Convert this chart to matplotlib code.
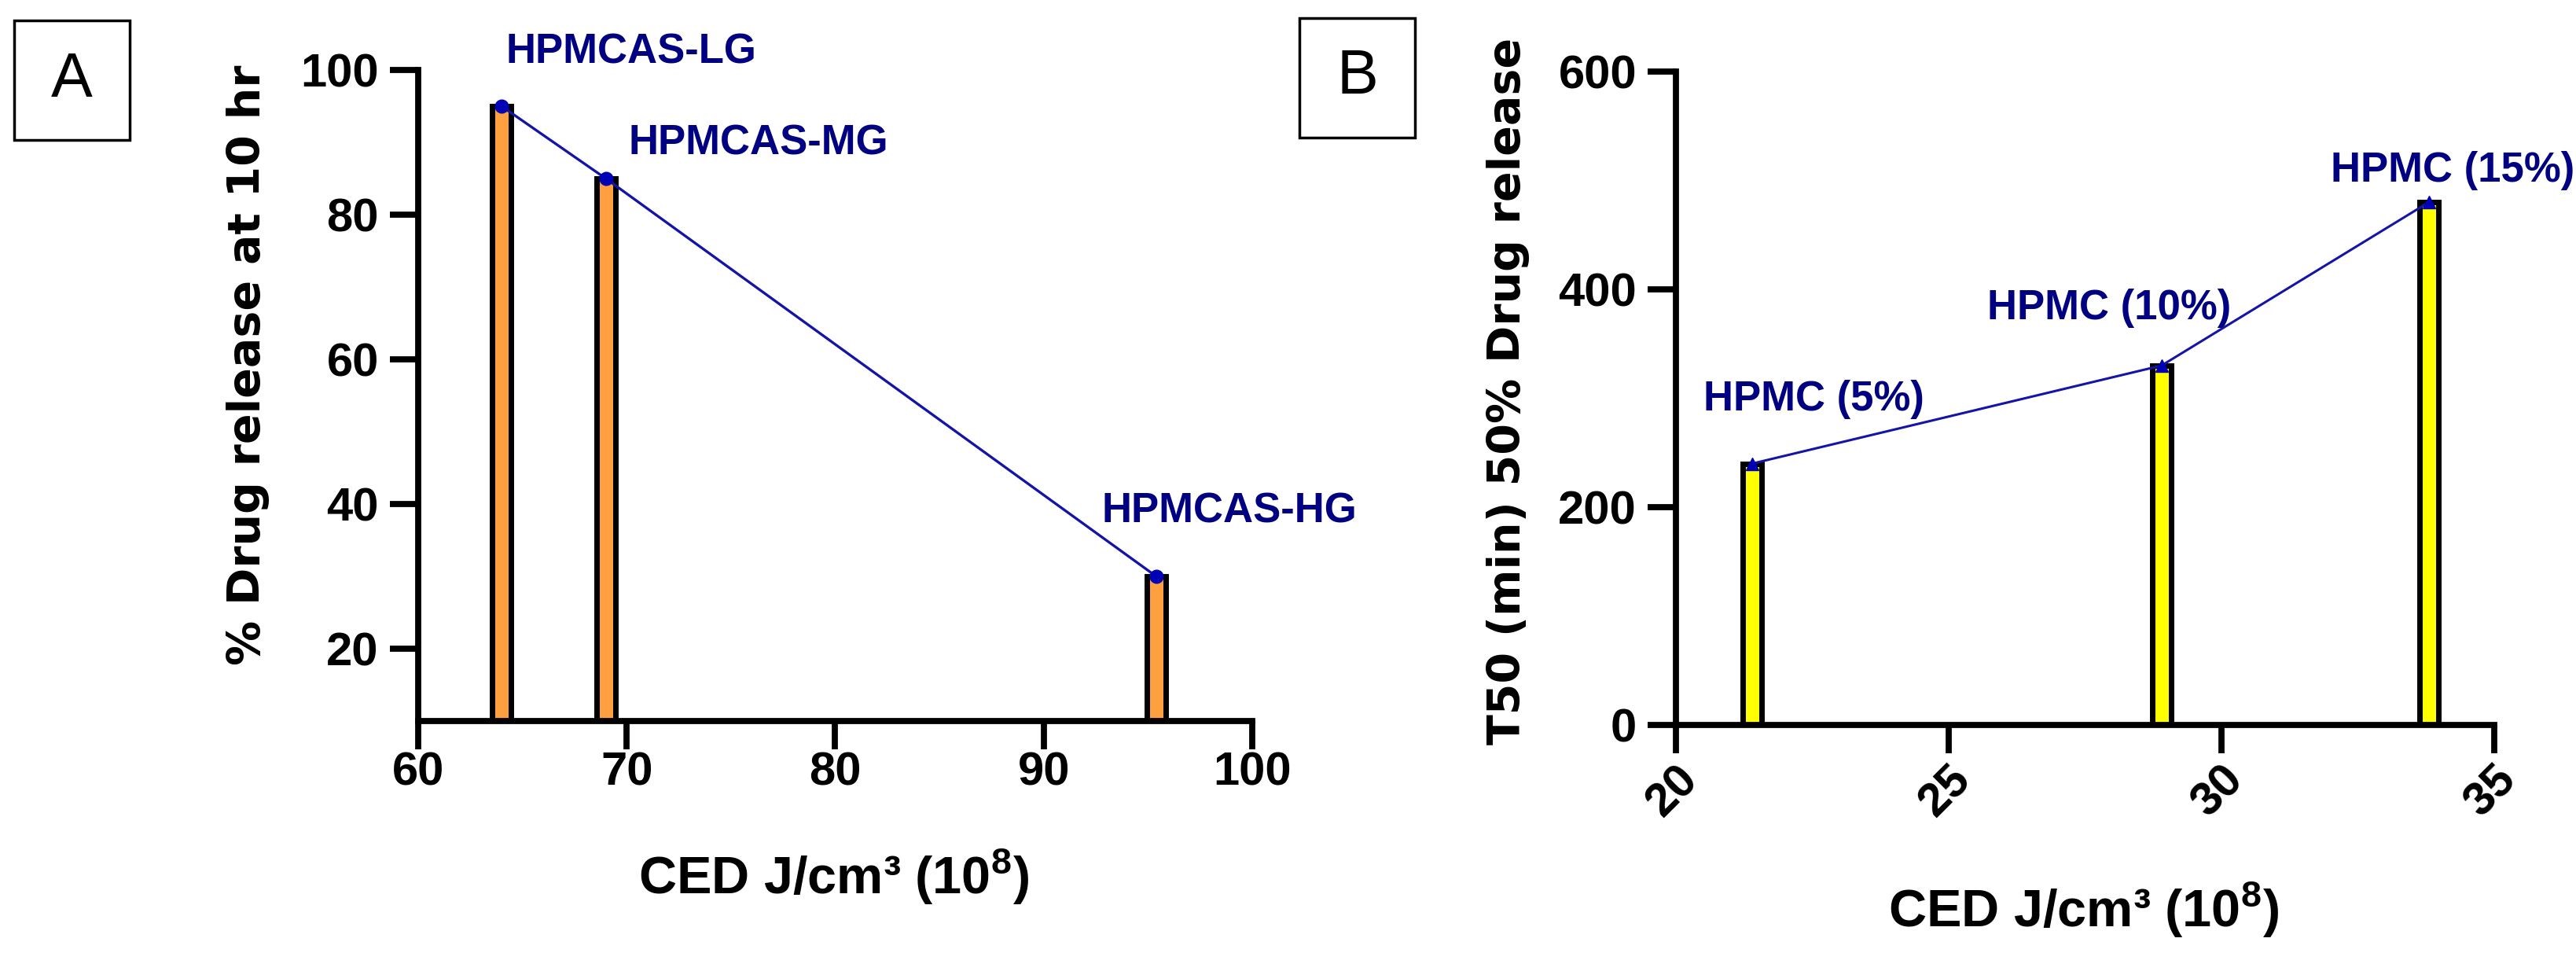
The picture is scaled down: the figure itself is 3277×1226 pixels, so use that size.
import matplotlib
matplotlib.use("Agg")
import matplotlib.pyplot as plt
from matplotlib.patches import Rectangle

plt.rcParams['font.family'] = ['Liberation Sans', 'DejaVu Sans']
plt.rcParams['mathtext.fontset'] = 'custom'
plt.rcParams['mathtext.rm'] = 'Liberation Sans:bold'
plt.rcParams['mathtext.default'] = 'rm'

# ---- data ----------------------------------------------------------------
# Panel A: HPMCAS grades
ced_a = [64.0, 69.0, 95.4]
release_a = [95, 85, 30]
names_a = ["HPMCAS-LG", "HPMCAS-MG", "HPMCAS-HG"]
label_pos_a = [(64.2, 102.4), (70.1, 89.8), (92.8, 39.0)]

# Panel B: HPMC concentrations
ced_b = [21.4, 28.9, 33.8]
t50_b = [240, 330, 480]
names_b = ["HPMC (5%)", "HPMC (10%)", "HPMC (15%)"]
label_pos_b = [(20.5, 299), (25.7, 383), (32.0, 509)]

xticks_a = [60, 70, 80, 90, 100]
yticks_a = [20, 40, 60, 80, 100]
xticks_b = [20, 25, 30, 35]
yticks_b = [0, 200, 400, 600]

# ---- style ---------------------------------------------------------------
ORANGE = '#FFA040'
YELLOW = '#FFFF00'
LINE = '#1414A8'
MARK = '#0000B4'
NAVY = '#000080'
SPINE_LW = 5.6
TICK_FS = 43
LAB_FS = 38

fig = plt.figure(figsize=(32.77, 12.26), dpi=100)
axA = fig.add_axes([0.1623, 0.2520, 0.3238, 0.6754])
axB = fig.add_axes([0.6506, 0.2480, 0.3177, 0.6778])


def style_axes(ax):
    for s in ('top', 'right'):
        ax.spines[s].set_visible(False)
    for s in ('left', 'bottom'):
        ax.spines[s].set_linewidth(SPINE_LW)
    ax.tick_params(width=SPINE_LW, length=26, labelsize=TICK_FS)
    for lab in ax.get_xticklabels() + ax.get_yticklabels():
        lab.set_fontweight('bold')


# ---- panel A -------------------------------------------------------------
axA.bar(ced_a, release_a, width=0.9, color=ORANGE, edgecolor='black',
        linewidth=5, zorder=2)
axA.plot(ced_a, release_a, color=LINE, lw=2.4, marker='o', ms=12,
         mfc=MARK, mec=MARK, zorder=4, clip_on=False)
axA.set_xlim(60, 100)
axA.set_ylim(10, 100)
axA.set_xticks(xticks_a)
axA.set_yticks(yticks_a)
style_axes(axA)
axA.tick_params(axis='x', pad=2)
axA.tick_params(axis='y', pad=10)
for name, (x, y) in zip(names_a, label_pos_a):
    axA.text(x, y, name, color=NAVY, fontsize=LAB_FS, fontweight='bold',
             ha='left', va='center', clip_on=False)

# ---- panel B -------------------------------------------------------------
axB.bar(ced_b, t50_b, width=0.35, color=YELLOW, edgecolor='black',
        linewidth=5, zorder=2)
axB.plot(ced_b, t50_b, color=LINE, lw=2.2, marker='^', ms=11,
         mfc=MARK, mec=MARK, zorder=4, clip_on=False)
axB.set_xlim(20, 35)
axB.set_ylim(0, 600)
axB.set_xticks(xticks_b)
axB.set_yticks(yticks_b)
style_axes(axB)
axB.tick_params(axis='y', pad=10)
axB.tick_params(axis='x', pad=4)
for lab in axB.get_xticklabels():
    lab.set_rotation(45)
    lab.set_ha('right')
    lab.set_rotation_mode('anchor')
for name, (x, y) in zip(names_b, label_pos_b):
    axB.text(x, y, name, color=NAVY, fontsize=LAB_FS, fontweight='bold',
             ha='left', va='center', clip_on=False)

# ---- axis titles ---------------------------------------------------------
fig.text(0.0964, 0.6215, '% Drug release at 10 hr', rotation=90,
         family='DejaVu Sans', fontweight='bold', fontsize=41,
         ha='center', va='center')
fig.text(0.5853, 0.5946, 'T50 (min) 50% Drug release', rotation=90,
         family='DejaVu Sans', fontweight='bold', fontsize=41,
         ha='center', va='center')
xlab = 'CED J/cm³ (10$^{8}$)'
fig.text(0.3238, 0.0905, xlab, fontsize=48, fontweight='bold',
         ha='center', va='center')
fig.text(0.8087, 0.0563, xlab, fontsize=48, fontweight='bold',
         ha='center', va='center')

# ---- panel letters in boxes ----------------------------------------------
for (x0, y0, letter) in [(0.0055, 0.8548, 'A'), (0.5044, 0.8573, 'B')]:
    fig.patches.append(Rectangle((x0, y0), 0.0449, 0.124, transform=fig.transFigure,
                                 fill=False, edgecolor='black', linewidth=2.5))
    fig.text(x0 + 0.0449 / 2, y0 + 0.062, letter, fontsize=57,
             ha='center', va='center')

fig.savefig('out.png', dpi=100)
